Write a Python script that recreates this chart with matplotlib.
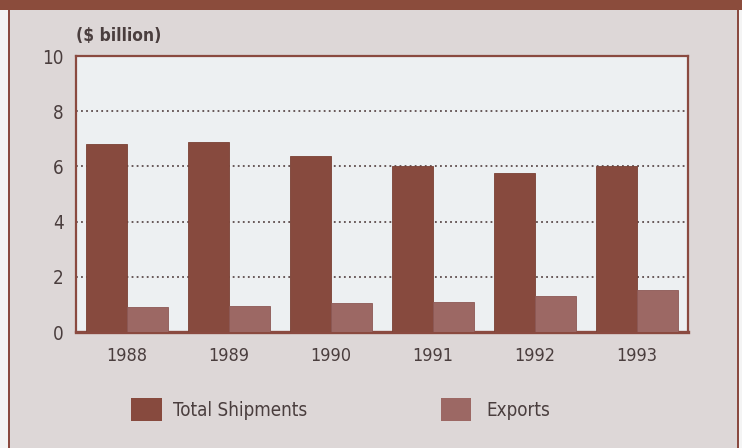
import matplotlib
matplotlib.use("Agg")
import matplotlib.pyplot as plt
from matplotlib.patches import Rectangle
from matplotlib import font_manager

years = ["1988", "1989", "1990", "1991", "1992", "1993"]
total_shipments = [6.8, 6.87, 6.38, 6.02, 5.76, 6.01]
exports = [0.92, 0.95, 1.05, 1.08, 1.30, 1.52]
y_ticks = [0, 2, 4, 6, 8, 10]

installed = {f.name for f in font_manager.fontManager.ttflist}
narrow = "Liberation Sans Narrow" if "Liberation Sans Narrow" in installed else "DejaVu Sans"
plt.rcParams["font.family"] = [narrow, "DejaVu Sans"]
plt.rcParams["font.stretch"] = "condensed"

BROWN = "#874a3e"
EXPORT = "#9c6864"
PANEL = "#ddd7d7"
FACE = "#edf0f2"
TEXT = "#4a3e3e"

W, H = 742, 448
fig = plt.figure(figsize=(W / 100, H / 100), dpi=100)
fig.patch.set_facecolor(PANEL)

# white margins, frame lines and top band
for x0, w, c in [(0, 8, "#f4f4f4"), (739, 3, "#f4f4f4"),
                 (8, 2, "#8a4a40"), (737, 2, "#8a4a40")]:
    fig.patches.append(Rectangle((x0 / W, 0), w / W, 1, transform=fig.transFigure,
                                 facecolor=c, edgecolor="none", zorder=1))
fig.patches.append(Rectangle((0, (H - 10) / H), 1, 10 / H, transform=fig.transFigure,
                             facecolor="#8b4c3c", edgecolor="none", zorder=1))

ax = fig.add_axes([76 / W, (H - 332) / H, 612 / W, 276 / H])
ax.set_zorder(5)
ax.set_facecolor(FACE)

x = list(range(len(years)))
bw = 0.4
ax.bar([i - bw / 2 for i in x], total_shipments, width=bw, color=BROWN,
       edgecolor="#7a4034", linewidth=0.6, zorder=3)
ax.bar([i + bw / 2 for i in x], exports, width=bw, color=EXPORT,
       edgecolor="#8c5854", linewidth=0.6, zorder=3)

ax.set_xlim(-0.5, len(years) - 0.5)
ax.set_ylim(0, 10)
ax.set_yticks(y_ticks)
ax.set_yticklabels([str(v) for v in y_ticks], fontsize=13.5, color=TEXT)
ax.set_xticks(x)
ax.set_xticklabels(years, fontsize=13, color=TEXT)
ax.tick_params(axis="both", length=0)
ax.tick_params(axis="y", pad=9)
ax.tick_params(axis="x", pad=11)

for v in y_ticks[1:-1]:
    ax.axhline(v, color="#5c4c4c", linestyle=(0, (1.0, 1.8)), linewidth=1.3, zorder=2)

for s in ax.spines.values():
    s.set_color("#8a4a40")
    s.set_linewidth(1.6)
ax.spines["bottom"].set_linewidth(2.4)

fig.text(76 / W, (H - 36) / H, "($ billion)", fontsize=12.5, fontweight="bold",
         color=TEXT, ha="left", va="center")

# legend
fig.patches.append(Rectangle((131 / W, (H - 421) / H), 31 / W, 23 / H,
                             transform=fig.transFigure, facecolor=BROWN,
                             edgecolor="none", zorder=2))
fig.text(173 / W, (H - 410) / H, "Total Shipments", fontsize=13.5, color=TEXT,
         ha="left", va="center")
fig.patches.append(Rectangle((441 / W, (H - 421) / H), 30 / W, 23 / H,
                             transform=fig.transFigure, facecolor=EXPORT,
                             edgecolor="none", zorder=2))
fig.text(486 / W, (H - 410) / H, "Exports", fontsize=13.5, color=TEXT,
         ha="left", va="center")

fig.savefig("out.png", dpi=100, facecolor=fig.get_facecolor())
